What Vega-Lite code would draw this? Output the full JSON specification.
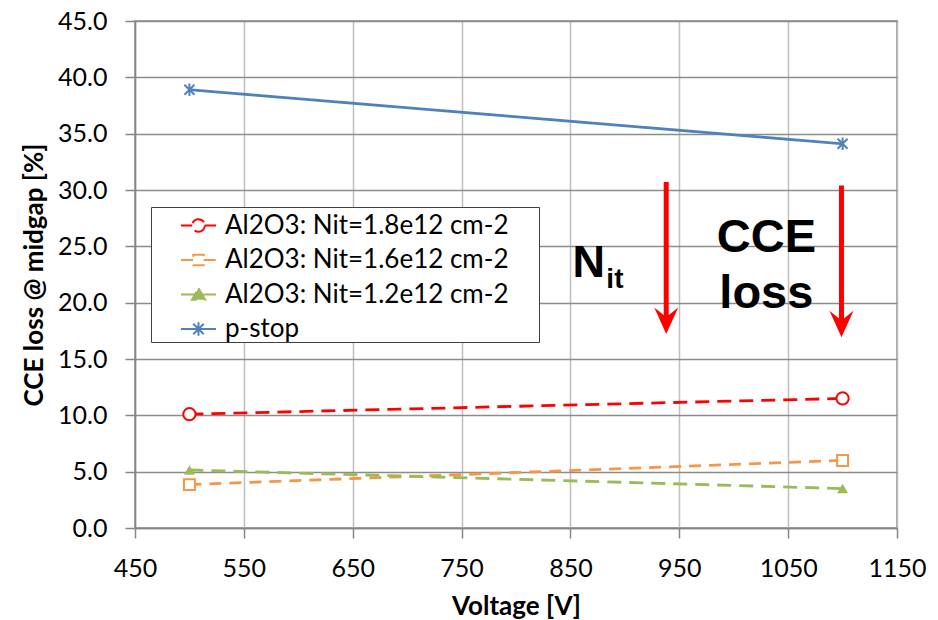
{
  "$schema": "https://vega.github.io/schema/vega-lite/v6.json",
  "width": 762,
  "height": 507,
  "autosize": {"type": "none"},
  "padding": {"left": 135, "top": 21, "right": 41, "bottom": 92},
  "background": "white",
  "config": {
    "font": "Lato",
    "view": {"stroke": "#868686", "strokeWidth": 1.5},
    "axis": {
      "labelFontSize": 25,
      "labelColor": "#000000",
      "labelPadding": 18,
      "labelFlush": false,
      "tickSize": 10,
      "tickColor": "#868686",
      "tickWidth": 1.5,
      "domainColor": "#868686",
      "domainWidth": 1.5,
      "gridWidth": 1.5,
      "titleFontSize": 26,
      "titleFontWeight": "bold",
      "titleColor": "#000000"
    },
    "axisX": {"gridColor": "#BFBFBF"},
    "axisY": {"gridColor": "#8C8C8C"}
  },
  "datasets": {
    "series": [
      {"voltage": 500, "loss": 10.1, "series": "Al2O3: Nit=1.8e12 cm-2"},
      {"voltage": 1100, "loss": 11.5, "series": "Al2O3: Nit=1.8e12 cm-2"},
      {"voltage": 500, "loss": 3.85, "series": "Al2O3: Nit=1.6e12 cm-2"},
      {"voltage": 1100, "loss": 6.0, "series": "Al2O3: Nit=1.6e12 cm-2"},
      {"voltage": 500, "loss": 5.15, "series": "Al2O3: Nit=1.2e12 cm-2"},
      {"voltage": 1100, "loss": 3.5, "series": "Al2O3: Nit=1.2e12 cm-2"},
      {"voltage": 500, "loss": 38.9, "series": "p-stop"},
      {"voltage": 1100, "loss": 34.1, "series": "p-stop"}
    ],
    "arrows": [
      {"voltage": 938, "top": 30.7, "head": 18.4},
      {"voltage": 1099, "top": 30.4, "head": 18.1}
    ],
    "bigNotes": [
      {"voltage": 1030, "loss": 24.5, "text": "CCE"},
      {"voltage": 1030, "loss": 19.5, "text": "loss"}
    ],
    "nNote": [{"voltage": 852, "loss": 22.3, "text": "N"}],
    "subNote": [{"voltage": 883, "loss": 21.3, "text": "it"}]
  },
  "encoding": {
    "x": {
      "field": "voltage",
      "type": "quantitative",
      "scale": {"domain": [450, 1150], "nice": false, "zero": false},
      "axis": {"values": [450, 550, 650, 750, 850, 950, 1050, 1150], "format": "d", "title": "Voltage [V]", "titlePadding": 12, "labelFlush": false, "labelPadding": 18}
    }
  },
  "layer": [
    {
      "data": {"name": "series"},
      "mark": {"type": "line", "strokeWidth": 2.8},
      "encoding": {
        "y": {
          "field": "loss",
          "type": "quantitative",
          "scale": {"domain": [0, 45], "nice": false},
          "axis": {"values": [0, 5, 10, 15, 20, 25, 30, 35, 40, 45], "format": ".1f", "title": "CCE loss @ midgap [%]", "titleX": -88, "titleY": 253.5, "titleAngle": -90, "titleBaseline": "bottom", "titleAlign": "center", "labelFlush": false, "labelPadding": 18}
        },
        "color": {
          "field": "series",
          "type": "nominal",
          "scale": {
            "domain": ["Al2O3: Nit=1.8e12 cm-2", "Al2O3: Nit=1.6e12 cm-2", "Al2O3: Nit=1.2e12 cm-2", "p-stop"],
            "range": ["#FF0000", "#F79646", "#9BBB59", "#4F81BD"]
          },
          "legend": {
            "orient": "none",
            "legendX": 16,
            "legendY": 186,
            "title": "MM",
            "titleOrient": "right",
            "titleColor": "white",
            "titleFontSize": 14,
            "titlePadding": 4,
            "padding": 0,
            "strokeColor": "#404040",
            "fillColor": "white",
            "symbolSize": 1225,
            "symbolStrokeWidth": 2,
            "symbolOffset": 29,
            "labelFontSize": 26,
            "labelOffset": 8,
            "labelColor": "#000000",
            "labelLimit": 500,
            "rowPadding": 2.5,
            "encode": {
              "symbols": {
                "update": {
                  "shape": {"signal": "datum.value == 'p-stop' ? 'M-1,0L1,0M-0.3,-0.3L0.3,0.3M-0.3,0.3L0.3,-0.3M0,-0.38L0,0.38' : datum.value == 'Al2O3: Nit=1.8e12 cm-2' ? 'M-1,0L-0.36,0M0.36,0L1,0M0.36,0A0.36,0.36 0 1,1 -0.36,0A0.36,0.36 0 1,1 0.36,0Z' : datum.value == 'Al2O3: Nit=1.6e12 cm-2' ? 'M-1,0L-0.3,0M0.3,0L1,0M-0.3,-0.3L0.3,-0.3L0.3,0.3L-0.3,0.3Z' : 'M-1,0L1,0M0,-0.36L0.38,0.3L-0.38,0.3Z'"},
                  "fill": {"signal": "datum.value == 'Al2O3: Nit=1.2e12 cm-2' ? '#9BBB59' : 'white'"},
                  "stroke": {"scale": "color", "field": "value"},
                  "strokeWidth": {"value": 2}
                }
              }
            }
          }
        },
        "strokeDash": {
          "field": "series",
          "type": "nominal",
          "scale": {
            "domain": ["Al2O3: Nit=1.8e12 cm-2", "Al2O3: Nit=1.6e12 cm-2", "Al2O3: Nit=1.2e12 cm-2", "p-stop"],
            "range": [[14, 8], [12, 8], [14, 8], [1, 0]]
          },
          "legend": null
        }
      }
    },
    {
      "data": {"name": "series"},
      "transform": [{"filter": "datum.series == 'Al2O3: Nit=1.8e12 cm-2'"}],
      "mark": {"type": "point", "shape": "circle", "filled": true, "fill": "white", "stroke": "#FF0000", "strokeWidth": 2, "size": 150, "opacity": 1},
      "encoding": {"y": {"field": "loss", "type": "quantitative"}}
    },
    {
      "data": {"name": "series"},
      "transform": [{"filter": "datum.series == 'Al2O3: Nit=1.6e12 cm-2'"}],
      "mark": {"type": "point", "shape": "square", "filled": true, "fill": "white", "stroke": "#F79646", "strokeWidth": 2, "size": 120, "opacity": 1},
      "encoding": {"y": {"field": "loss", "type": "quantitative"}}
    },
    {
      "data": {"name": "series"},
      "transform": [{"filter": "datum.series == 'Al2O3: Nit=1.2e12 cm-2'"}],
      "mark": {"type": "point", "shape": "triangle-up", "filled": true, "fill": "#9BBB59", "size": 120, "opacity": 1},
      "encoding": {"y": {"field": "loss", "type": "quantitative"}}
    },
    {
      "data": {"name": "series"},
      "transform": [{"filter": "datum.series == 'p-stop'"}],
      "mark": {"type": "point", "shape": "M-1,-1L1,1M-1,1L1,-1M0,-1.25L0,1.25", "filled": false, "stroke": "#4F81BD", "strokeWidth": 2, "size": 100, "opacity": 1},
      "encoding": {"y": {"field": "loss", "type": "quantitative"}}
    },
    {
      "data": {"name": "arrows"},
      "mark": {"type": "rule", "color": "#FF0000", "strokeWidth": 5},
      "encoding": {
        "y": {"field": "top", "type": "quantitative"},
        "y2": {"field": "head"}
      }
    },
    {
      "data": {"name": "arrows"},
      "mark": {"type": "point", "shape": "M0,1.1L-1,-1.1L0,-0.3L1,-1.1Z", "filled": true, "fill": "#FF0000", "size": 576, "opacity": 1},
      "encoding": {
        "y": {"field": "head", "type": "quantitative"}
      }
    },
    {
      "data": {"name": "bigNotes"},
      "mark": {"type": "text", "font": "Liberation Sans", "fontWeight": "bold", "fontSize": 47, "align": "center", "baseline": "alphabetic", "color": "#000000"},
      "encoding": {
        "y": {"field": "loss", "type": "quantitative"},
        "text": {"field": "text"}
      }
    },
    {
      "data": {"name": "nNote"},
      "mark": {"type": "text", "font": "Liberation Sans", "fontWeight": "bold", "fontSize": 45, "align": "left", "baseline": "alphabetic", "color": "#000000"},
      "encoding": {
        "y": {"field": "loss", "type": "quantitative"},
        "text": {"field": "text"}
      }
    },
    {
      "data": {"name": "subNote"},
      "mark": {"type": "text", "font": "Liberation Sans", "fontWeight": "bold", "fontSize": 28, "align": "left", "baseline": "alphabetic", "color": "#000000"},
      "encoding": {
        "y": {"field": "loss", "type": "quantitative"},
        "text": {"field": "text"}
      }
    }
  ]
}
